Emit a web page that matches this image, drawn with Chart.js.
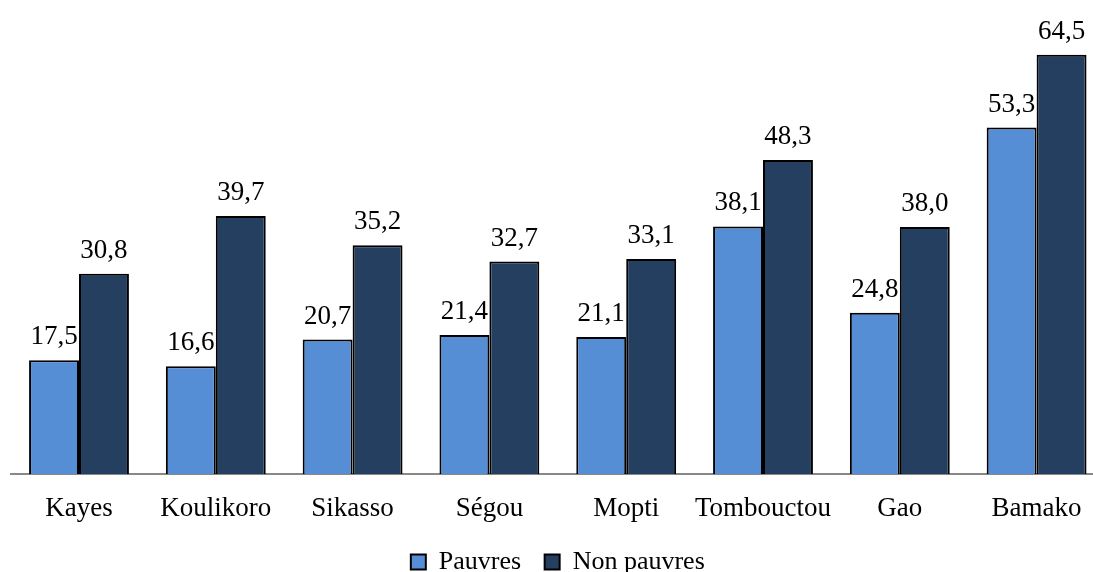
<!DOCTYPE html>
<html>
<head>
<meta charset="utf-8">
<script src="https://cdn.jsdelivr.net/npm/chart.js@4/dist/chart.umd.min.js"></script>
<style>
  html, body { margin: 0; padding: 0; background: #fff; overflow: hidden; }
</style>
</head>
<body>
<canvas id="graf" width="1110" height="572"></canvas>
<script>
// Régions du Mali
const regions = ["Kayes", "Koulikoro", "Sikasso", "Ségou", "Mopti", "Tombouctou", "Gao", "Bamako"];
const pauvres = [17.5, 16.6, 20.7, 21.4, 21.1, 38.1, 24.8, 53.3];
const nonPauvres = [30.8, 39.7, 35.2, 32.7, 33.1, 48.3, 38.0, 64.5];

const police = "'Liberation Serif', 'Times New Roman', serif";

// Étiquettes de valeur au-dessus des barres (virgule décimale)
const etiquettes = {
  id: "etiquettes",
  afterDatasetsDraw(chart) {
    const ctx = chart.ctx;
    ctx.save();
    ctx.font = "27px " + police;
    ctx.fillStyle = "#000";
    ctx.textAlign = "center";
    ctx.textBaseline = "alphabetic";
    chart.data.datasets.forEach((ds, i) => {
      chart.getDatasetMeta(i).data.forEach((bar, j) => {
        const txt = ds.data[j].toFixed(1).replace(".", ",");
        ctx.fillText(txt, bar.x, bar.y - 16);
      });
    });
    ctx.restore();
  }
};

new Chart(document.getElementById("graf"), {
  type: "bar",
  data: {
    labels: regions,
    datasets: [
      {
        label: "Pauvres",
        data: pauvres,
        backgroundColor: "#558ED5",
        borderColor: "#000",
        borderWidth: 2
      },
      {
        label: "Non pauvres",
        data: nonPauvres,
        backgroundColor: "#243F60",
        borderColor: "#000",
        borderWidth: 2
      }
    ]
  },
  options: {
    responsive: false,
    animation: false,
    layout: { padding: { left: 10.6, right: 5, top: 19, bottom: -13 } },
    datasets: { bar: { categoryPercentage: 0.73, barPercentage: 1 } },
    scales: {
      x: {
        grid: { display: false, drawTicks: false, tickLength: 0 },
        border: { display: true, color: "#888", width: 2 },
        ticks: { color: "#000", font: { family: police, size: 27 }, padding: 19, maxRotation: 0, autoSkip: false },
        // hauteur juste suffisante pour les noms de régions
        afterFit(scale) {
          scale.height = 19 + 32.4;
          scale.paddingLeft = 0;
          scale.paddingRight = 0;
        }
      },
      y: {
        display: false,
        min: 0,
        max: 70
      }
    },
    plugins: {
      legend: {
        position: "bottom",
        labels: {
          color: "#000",
          font: { family: police, size: 26 },
          boxWidth: 15,
          boxHeight: 15,
          padding: 23.5
        }
      },
      tooltip: { enabled: false }
    }
  },
  plugins: [etiquettes]
});
</script>
</body>
</html>
